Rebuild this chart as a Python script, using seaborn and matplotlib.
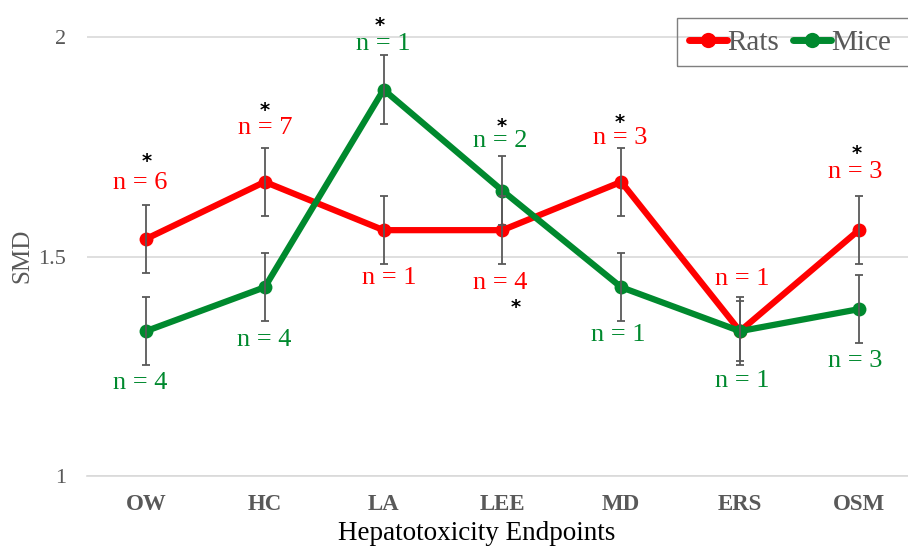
import matplotlib
matplotlib.use("Agg")
import matplotlib.pyplot as plt
from matplotlib.lines import Line2D
from matplotlib.patches import Rectangle
import seaborn as sns
import pandas as pd

# ---- data ----
endpoints = ["OW", "HC", "LA", "LEE", "MD", "ERS", "OSM"]
rats_smd = [1.54, 1.67, 1.56, 1.56, 1.67, 1.33, 1.56]
mice_smd = [1.33, 1.43, 1.88, 1.65, 1.43, 1.33, 1.38]
rats_err = [0.078, 0.078, 0.078, 0.078, 0.078, 0.068, 0.078]
mice_err = [0.078, 0.078, 0.078, 0.078, 0.078, 0.078, 0.078]
rats_n = [6, 7, 1, 4, 3, 1, 3]
mice_n = [4, 4, 1, 2, 1, 1, 3]
rats_star = [True, True, False, True, True, False, True]
mice_star = [False, False, True, True, False, False, False]

# ---- layout (pixel offsets of labels from points; negative = above) ----
rats_lab_dy = [-56, -54, 48, 53, -44, -52, -58]
rats_lab_dx = [-6, 0, 6, -2, -1, 2, -4]
mice_lab_dy = [52, 53, -46, -50, 48, 50, 52]
mice_lab_dx = [-6, -1, 0, -2, -3, 2, -4]
rats_star_dy = [-82, -76, 0, 73, -64, 0, -81]
rats_star_dx = [1, 0, 0, 13, -1, 0, -2]
mice_star_dy = [0, 0, -68, -68, 0, 0, 0]
mice_star_dx = [0, 0, -4, -1, 0, 0, 0]

RED = "#FF0000"
GREEN = "#00892E"
GRAY = "#595959"

sns.set_theme(style="white")
plt.rcParams["font.family"] = ["Liberation Serif", "DejaVu Serif"]

df = pd.DataFrame({
    "Endpoint": endpoints * 2,
    "x": list(range(len(endpoints))) * 2,
    "SMD": rats_smd + mice_smd,
    "Species": ["Rats"] * len(endpoints) + ["Mice"] * len(endpoints),
})

fig = plt.figure(figsize=(9.08, 5.47), dpi=100)
ax = fig.add_axes([86.6 / 908, 71 / 547, 831.6 / 908, 1.08 * 439 / 547])

sns.lineplot(data=df, x="x", y="SMD", hue="Species",
             palette={"Rats": RED, "Mice": GREEN},
             marker="o", markersize=10, markeredgewidth=0,
             linewidth=4.5, ax=ax, legend=False, zorder=3)

xs = list(range(len(endpoints)))
ax.errorbar(xs, rats_smd, yerr=rats_err, fmt="none", ecolor=GRAY,
            elinewidth=1.3, capsize=2.6, capthick=1.3, zorder=5)
ax.errorbar(xs, mice_smd, yerr=mice_err, fmt="none", ecolor=GRAY,
            elinewidth=1.3, capsize=2.6, capthick=1.3, zorder=5)

px2pt = 0.72
star_kw = dict(textcoords="offset points", ha="center", va="center",
               color="black", fontsize=14, fontweight="bold",
               family=["DejaVu Sans"], zorder=6)
for i in xs:
    ax.annotate(f"n = {rats_n[i]}", (i, rats_smd[i]),
                xytext=(rats_lab_dx[i] * px2pt, -rats_lab_dy[i] * px2pt),
                textcoords="offset points",
                ha="center", va="center", color=RED, fontsize=19, zorder=6)
    ax.annotate(f"n = {mice_n[i]}", (i, mice_smd[i]),
                xytext=(mice_lab_dx[i] * px2pt, -mice_lab_dy[i] * px2pt),
                textcoords="offset points",
                ha="center", va="center", color=GREEN, fontsize=19, zorder=6)
    if rats_star[i]:
        ax.annotate("*", (i, rats_smd[i]),
                    xytext=(rats_star_dx[i] * px2pt, -rats_star_dy[i] * px2pt - 3),
                    **star_kw)
    if mice_star[i]:
        ax.annotate("*", (i, mice_smd[i]),
                    xytext=(mice_star_dx[i] * px2pt, -mice_star_dy[i] * px2pt - 3),
                    **star_kw)

ax.set_xlim(-0.5, len(endpoints) - 0.5)
ax.set_ylim(1, 2.08)
ax.set_xticks(xs)
ax.set_xticklabels(endpoints, fontweight="bold", color=GRAY, fontsize=16.5)
ax.set_yticks([1, 1.5, 2])
ax.set_yticklabels(["1", "1.5", "2"], color=GRAY, fontsize=16)
ax.tick_params(axis="both", length=0)
ax.tick_params(axis="x", pad=13)
ax.tick_params(axis="y", pad=15)
ax.grid(axis="y", color="#D9D9D9", linewidth=1.2)
ax.grid(axis="x", visible=False)
for s in ["left", "right", "top"]:
    ax.spines[s].set_visible(False)
ax.spines["bottom"].set_color("#D9D9D9")
ax.spines["bottom"].set_linewidth(1.2)

ax.set_xlabel("Hepatotoxicity Endpoints", fontsize=19.5, color="black",
              va="center")
ax.xaxis.set_label_coords((477 - 86.6) / 831.6, -(534 - 476) / (1.08 * 439))
ax.set_ylabel("SMD", fontsize=18, color=GRAY, va="center")
ax.yaxis.set_label_coords(-(86.6 - 22) / 831.6, (476 - 256) / (1.08 * 439))

handles = [Line2D([], [], color=RED, marker="o", markersize=11, linewidth=5,
                  markeredgewidth=0),
           Line2D([], [], color=GREEN, marker="o", markersize=11, linewidth=5,
                  markeredgewidth=0)]
leg = fig.legend(handles, ["Rats", "Mice"], loc="center left",
                 bbox_to_anchor=(689 / 908, 1 - 43 / 547), ncol=2,
                 fontsize=21, frameon=False,
                 handlelength=1.3, handletextpad=0.0, columnspacing=0.5,
                 borderpad=0, borderaxespad=0)
for t in leg.get_texts():
    t.set_color(GRAY)
fig.patches.append(Rectangle((677 / 908, 1 - 66 / 547), 240 / 908, 48 / 547,
                             transform=fig.transFigure, fill=False,
                             edgecolor="#7F7F7F", linewidth=1.0))

fig.savefig("out.png", dpi=100)
